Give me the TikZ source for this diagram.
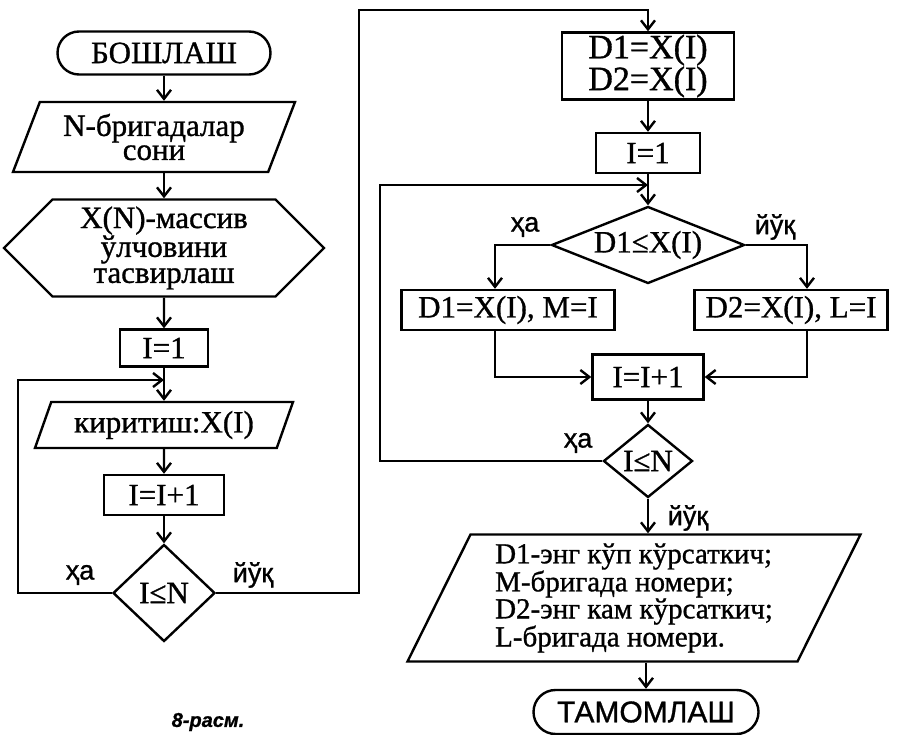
\documentclass[tikz,border=0pt]{standalone}
\usepackage{fontspec}
\setmainfont{Liberation Serif}[FakeBold=1]
\newfontfamily\labelfont{Liberation Sans}[FakeBold=1]
\usetikzlibrary{positioning, shapes.geometric, shapes.misc, shapes.symbols, arrows.meta, calc}

\begin{document}
\begin{tikzpicture}[x=1pt, y=-1pt, line width=2.4pt,
    >={Straight Barb[length=9pt, width=14pt]},
    every node/.style={font=\fontsize{31}{26}\selectfont, inner sep=0pt},
    term/.style={draw, rounded rectangle, font=\fontsize{31}{31}\selectfont},
    proc/.style={draw, rectangle},
    io/.style={draw, trapezium, trapezium left angle=60, trapezium right angle=120, trapezium stretches body},
    prep/.style={draw, signal, signal to=west and east},
    test/.style={draw, diamond},
    lbl/.style={font=\labelfont\fontsize{27}{27}\selectfont}]
      \useasboundingbox (0,0) rectangle (913,735);

      % left column
      \node[term, minimum width=213pt, minimum height=43pt] (start) at (164,53) {БОШЛАШ};
      \node[io, minimum width=282pt, minimum height=70pt, align=center, font=\fontsize{31}{24}\selectfont] (brig) at (154,137) {N-бригадалар\\сони};
      \node[prep, minimum width=320pt, minimum height=97pt, align=center] (arr) at (164,248) {X(N)-массив\\ўлчовини\\тасвирлаш};
      \node[proc, minimum width=88pt, minimum height=37pt] (i1) at (164,348) {I=1};
      \node[io, minimum width=258pt, minimum height=46pt] (inp) at (164,425) {киритиш:X(I)};
      \node[proc, minimum width=120pt, minimum height=40pt] (inc1) at (164,495) {I=I+1};
      \node[test, minimum width=102pt, minimum height=97pt] (c1) at (164,593) {I≤N};
      \coordinate (j1) at (164,380);
      \coordinate (l1) at (18,380);
      \coordinate (r1) at (359,10);

      \draw[->] (start.south) -- (start.south |- brig.north);
      \draw[->] (brig.south -| start) -- (arr.north);
      \draw[->] (arr) -- (i1);
      \draw[->] (i1) -- (inp);
      \draw[->] (inp) -- (inc1);
      \draw[->] (inc1) -- (c1);
      \draw[->] (c1.west) -| (l1) -- (j1);

      \node[lbl] (ha1) at (80,575) {ҳа};
      \node[lbl] (yo1) at (253,575) {йўқ};

      % right column
      \node[proc, minimum width=172pt, minimum height=67pt, align=center, font=\fontsize{34}{25}\selectfont] (init) at (648,66) {D1=X(I)\\D2=X(I)};
      \node[proc, minimum width=104pt, minimum height=40pt] (i2) at (648,153) {I=1};
      \node[test, aspect=2.5, minimum width=193pt, minimum height=77pt] (c2) at (648,245) {D1≤X(I)};
      \node[proc, minimum width=213pt, minimum height=40pt] (yes) at (508,310) {D1=X(I), M=I};
      \node[proc, minimum width=193pt, minimum height=40pt] (no) at (791,310) {D2=X(I), L=I};
      \node[proc, minimum width=111pt, minimum height=45pt] (inc2) at (648,377) {I=I+1};
      \node[test, minimum width=89pt, minimum height=73pt] (c3) at (648,461) {I≤N};
      \node[io, minimum width=453pt, minimum height=127pt, align=left, font=\fontsize{29}{24}\selectfont] (out) at (634,598)
        {D1-энг кўп кўрсаткич;\\M-бригада номери;\\D2-энг кам кўрсаткич;\\L-бригада номери.};
      \node[term, minimum width=225pt, minimum height=44pt, font=\labelfont\fontsize{30}{30}\selectfont] (stop) at (646,712) {ТАМОМЛАШ};
      \coordinate (j2) at (648,185);
      \coordinate (l2) at (380,185);

      \draw[->] (c1.east) -| (r1) -| (init.north);
      \draw[->] (init) -- (i2);
      \draw[->] (i2) -- (c2);
      \draw[->] (c2.west) -| ([xshift=-13pt]yes.north);
      \draw[->] (c2.east) -| ([xshift=16pt]no.north);
      \draw[->] ([xshift=-13pt]yes.south) |- (inc2.west);
      \draw[->] ([xshift=16pt]no.south) |- (inc2.east);
      \draw[->] (inc2) -- (c3);
      \draw[->] (c3.west) -| (l2) -- (j2);
      \draw[->] (c3.south) -- (c3.south |- out.north);
      \draw[->] (out.south -| stop) -- (stop.north);

      \node[lbl] (ha2) at (525,227) {ҳа};
      \node[lbl] (yo2) at (775,227) {йўқ};
      \node[lbl] (ha3) at (578,443) {ҳа};
      \node[lbl] (yo3) at (688,518) {йўқ};

      \node[font=\labelfont\bfseries\itshape\fontsize{20}{20}\selectfont] (cap) at (208,722) {8-расм.};
    \end{tikzpicture}
\end{document}
